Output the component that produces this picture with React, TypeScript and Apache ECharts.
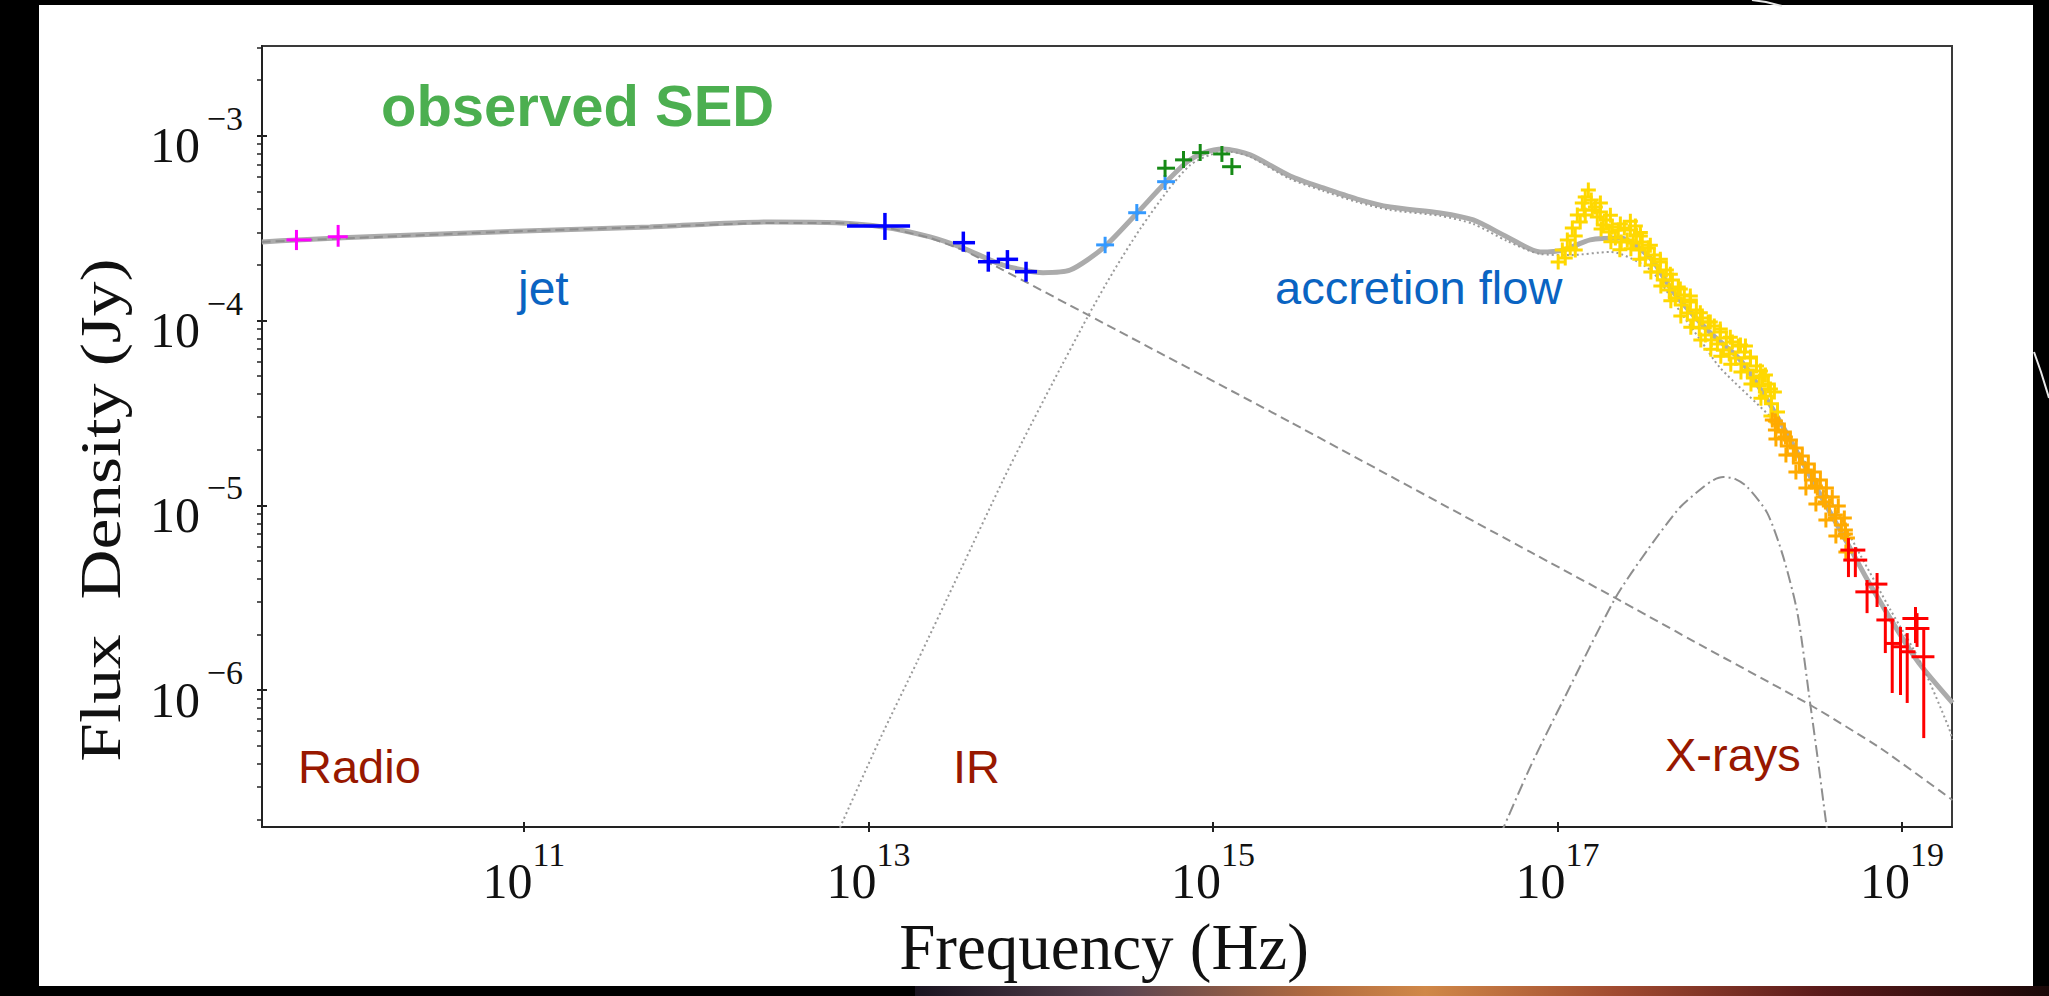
import React, { useEffect, useRef } from 'react';
import * as echarts from 'echarts';

// All values are log10(frequency / Hz) and log10(flux density / Jy)
const xMin = 9.48;
const xMax = 19.29;
const yMin = -6.74;
const yMax = -2.515;
const xTickExps = [11, 13, 15, 17, 19];
const yTickExps = [-6, -5, -4, -3];
const yMinorDecades = [-7, -6, -5, -4, -3];
const yMinorMultipliers = [2, 3, 4, 5, 6, 7, 8, 9];

// total model (solid grey)
const totalModel: [number, number][] = [
  [9.479, -3.575], [9.682, -3.564], [10.28, -3.54], [11.0, -3.516], [11.732, -3.494],
  [12.429, -3.467], [12.818, -3.471], [13.085, -3.494], [13.358, -3.548], [13.549, -3.608],
  [13.782, -3.7], [14.014, -3.741], [14.171, -3.727], [14.362, -3.608], [14.56, -3.418],
  [14.711, -3.267], [14.85, -3.142], [14.943, -3.094], [15.059, -3.072], [15.216, -3.104],
  [15.448, -3.218], [15.64, -3.283], [15.837, -3.343], [16.029, -3.386], [16.319, -3.418],
  [16.511, -3.456], [16.708, -3.548], [16.9, -3.629], [17.034, -3.619], [17.19, -3.564],
  [17.365, -3.554], [17.539, -3.662], [17.672, -3.846], [17.87, -4.051], [18.062, -4.214],
  [18.218, -4.43], [18.352, -4.646], [18.526, -4.944], [18.689, -5.215], [18.816, -5.431],
  [18.991, -5.702], [19.107, -5.864], [19.293, -6.069],
];

// jet component (dashed)
const jetModel: [number, number][] = [
  [9.479, -3.575], [10.28, -3.543], [11.0, -3.516], [11.732, -3.494], [12.429, -3.472],
  [12.818, -3.472], [13.085, -3.494], [13.358, -3.554], [13.549, -3.619], [13.782, -3.727],
  [14.275, -3.97], [15.448, -4.549], [16.842, -5.252], [17.336, -5.501], [17.829, -5.755],
  [18.468, -6.08], [18.874, -6.313], [19.293, -6.594],
];

// accretion flow component (dotted)
const accretionModel: [number, number][] = [
  [12.823, -6.768], [13.067, -6.264], [13.282, -5.848], [13.532, -5.356], [13.782, -4.863],
  [13.898, -4.647], [14.072, -4.333], [14.275, -3.976], [14.42, -3.738], [14.577, -3.505],
  [14.74, -3.294], [14.868, -3.159], [14.984, -3.104], [15.1, -3.088], [15.216, -3.115],
  [15.448, -3.234], [15.64, -3.299], [15.837, -3.359], [16.029, -3.402], [16.319, -3.434],
  [16.511, -3.478], [16.708, -3.57], [16.9, -3.64], [17.074, -3.646], [17.307, -3.629],
  [17.539, -3.727], [17.713, -3.954], [17.829, -4.105], [17.945, -4.257], [18.253, -4.538],
  [18.41, -4.728], [18.584, -4.971], [18.758, -5.269], [18.933, -5.566], [19.107, -5.848],
  [19.27, -6.199], [19.293, -6.269],
];

// X-ray hump component (dash-dot)
const xrayHumpModel: [number, number][] = [
  [16.668, -6.784], [16.842, -6.415], [17.034, -6.053], [17.336, -5.501], [17.522, -5.242],
  [17.713, -5.009], [17.847, -4.901], [17.905, -4.863], [17.963, -4.847], [18.033, -4.858],
  [18.102, -4.901], [18.218, -5.042], [18.311, -5.28], [18.393, -5.583], [18.468, -6.08],
  [18.514, -6.394], [18.555, -6.687], [18.573, -6.811],
];

// observed points: [x, y, xLow, xHigh, yLow, yHigh]
const radioPoints = [
  [9.68, -3.564, 9.622, 9.767, -3.619, -3.51],
  [9.922, -3.547, 9.862, 9.978, -3.601, -3.483],
];
const irPoints = [
  [13.096, -3.489, 12.876, 13.242, -3.564, -3.418],
  [13.551, -3.579, 13.491, 13.619, -3.628, -3.519],
  [13.696, -3.682, 13.636, 13.764, -3.736, -3.628],
  [13.807, -3.669, 13.745, 13.869, -3.721, -3.619],
  [13.915, -3.736, 13.851, 13.979, -3.79, -3.682],
];
const nirPoints = [
  [14.374, -3.591, 14.322, 14.426, -3.636, -3.547],
  [14.558, -3.417, 14.508, 14.612, -3.462, -3.37],
  [14.722, -3.249, 14.676, 14.78, -3.294, -3.213],
];
const opticalPoints = [
  [14.722, -3.176, 14.676, 14.78, -3.223, -3.131],
  [14.829, -3.131, 14.78, 14.879, -3.175, -3.083],
  [14.926, -3.092, 14.879, 14.978, -3.137, -3.045],
  [15.052, -3.099, 15.001, 15.1, -3.142, -3.056],
  [15.11, -3.168, 15.053, 15.163, -3.213, -3.121],
];
const hardXPoints = [
  [18.689, -5.242, 18.642, 18.787, -5.388, -5.177],
  [18.729, -5.296, 18.659, 18.798, -5.388, -5.226],
  [18.855, -5.426, 18.787, 18.915, -5.55, -5.366],
  [18.797, -5.468, 18.729, 18.857, -5.583, -5.404],
  [18.903, -5.62, 18.851, 18.956, -5.799, -5.55],
  [18.943, -5.747, 18.897, 18.991, -6.015, -5.62],
  [18.991, -5.765, 18.944, 19.037, -6.026, -5.658],
  [19.03, -5.792, 18.985, 19.078, -6.069, -5.691],
  [19.078, -5.612, 19.002, 19.153, -5.745, -5.55],
  [19.087, -5.666, 19.02, 19.159, -5.766, -5.583],
  [19.126, -5.819, 19.055, 19.188, -6.259, -5.658],
];
const softXYellow: [number, number][] = [
  [17.004, -3.683], [17.028, -3.619], [17.045, -3.662], [17.057, -3.564], [17.074, -3.608],
  [17.086, -3.499], [17.103, -3.543], [17.115, -3.429], [17.132, -3.467], [17.144, -3.364],
  [17.161, -3.332], [17.179, -3.294], [17.196, -3.348], [17.155, -3.402], [17.103, -3.619],
  [17.161, -3.429], [17.202, -3.402],
  [17.22, -3.386], [17.231, -3.44], [17.249, -3.413], [17.266, -3.483], [17.283, -3.456],
  [17.301, -3.521], [17.318, -3.494], [17.336, -3.554], [17.353, -3.51], [17.37, -3.575],
  [17.388, -3.499], [17.405, -3.564], [17.423, -3.51], [17.44, -3.581], [17.458, -3.537],
  [17.475, -3.619], [17.492, -3.575], [17.51, -3.662], [17.527, -3.608], [17.545, -3.7],
  [17.562, -3.646], [17.58, -3.738], [17.597, -3.683], [17.614, -3.781], [17.632, -3.727],
  [17.649, -3.835], [17.667, -3.781], [17.684, -3.878], [17.701, -3.819], [17.719, -3.916],
  [17.736, -3.862], [17.754, -3.959], [17.771, -3.9], [17.788, -3.997], [17.806, -3.943],
  [17.823, -4.041], [17.841, -3.986], [17.858, -4.078], [17.875, -4.008], [17.893, -4.105],
  [17.91, -4.03], [17.928, -4.127], [17.945, -4.062], [17.963, -4.16], [17.98, -4.095],
  [17.997, -4.181], [18.015, -4.116], [18.033, -4.203], [18.05, -4.138], [18.068, -4.235],
  [18.085, -4.17], [18.102, -4.268], [18.12, -4.203], [18.137, -4.311], [18.155, -4.246],
  [18.172, -4.354], [18.19, -4.3], [18.207, -4.408], [18.224, -4.343], [18.242, -4.451],
  [18.259, -4.387], [18.277, -4.495], [17.452, -3.489], [17.481, -3.543], [17.771, -3.867],
  [18.091, -4.138], [18.207, -4.295],
  [17.249, -3.364], [17.253, -3.505], [17.307, -3.431], [17.31, -3.574], [17.365, -3.478],
  [17.362, -3.617], [17.423, -3.463], [17.426, -3.612], [17.481, -3.524], [17.478, -3.668],
  [17.539, -3.593], [17.542, -3.737], [17.597, -3.669], [17.6, -3.814], [17.655, -3.75],
  [17.658, -3.893], [17.713, -3.83], [17.716, -3.975], [17.771, -3.889], [17.774, -4.036],
  [17.829, -3.958], [17.832, -4.106], [17.887, -4.008], [17.89, -4.155], [17.945, -4.046],
  [17.948, -4.193], [18.003, -4.09], [18.006, -4.236], [18.062, -4.132], [18.065, -4.279],
  [18.12, -4.197], [18.123, -4.344], [18.178, -4.273], [18.181, -4.42], [18.236, -4.371],
  [18.239, -4.517],
];
const softXOrange: [number, number][] = [
  [18.247, -4.538], [18.265, -4.592], [18.282, -4.56], [18.299, -4.635], [18.317, -4.603],
  [18.334, -4.679], [18.352, -4.646], [18.369, -4.728], [18.386, -4.69], [18.404, -4.771],
  [18.421, -4.733], [18.439, -4.82], [18.456, -4.776], [18.474, -4.863], [18.491, -4.82],
  [18.508, -4.906], [18.526, -4.863], [18.543, -4.955], [18.561, -4.906], [18.578, -5.004],
  [18.595, -4.955], [18.613, -5.052], [18.63, -5.004], [18.648, -5.106], [18.665, -5.068],
  [18.683, -5.177], [18.671, -5.133],
  [18.265, -4.544], [18.268, -4.641], [18.323, -4.63], [18.326, -4.728], [18.381, -4.722],
  [18.384, -4.82], [18.439, -4.809], [18.442, -4.906], [18.497, -4.895], [18.5, -4.993],
  [18.555, -4.982], [18.558, -5.079], [18.613, -5.068], [18.616, -5.166], [18.671, -5.155],
  [18.674, -5.252],
];

const SERIF = '"Liberation Serif", "Times New Roman", serif';
const SANS = '"Liberation Sans", Arial, sans-serif';
const PLUS = 'path://M4,0H6V4H10V6H6V10H4V6H0V4H4Z';

function errorBarSeries(name: string, data: number[][], color: string, width: number) {
  return {
    type: 'custom',
    name,
    data,
    z: 6,
    encode: { x: 0, y: 1 },
    renderItem: (_params: any, api: any) => {
      const x = api.value(0);
      const y = api.value(1);
      const l = api.coord([api.value(2), y]);
      const r = api.coord([api.value(3), y]);
      const b = api.coord([x, api.value(4)]);
      const t = api.coord([x, api.value(5)]);
      return {
        type: 'group',
        children: [
          { type: 'line', shape: { x1: l[0], y1: l[1], x2: r[0], y2: r[1] }, style: { stroke: color, lineWidth: width } },
          { type: 'line', shape: { x1: b[0], y1: b[1], x2: t[0], y2: t[1] }, style: { stroke: color, lineWidth: width } },
        ],
      };
    },
  };
}

function lineSeries(name: string, data: [number, number][], color: string, width: number, type: any, z: number, smooth: number) {
  return {
    type: 'line',
    name,
    data,
    showSymbol: false,
    symbol: 'none',
    smooth,
    z,
    lineStyle: { color, width, type },
  };
}

const richLabel = {
  b: { fontFamily: SERIF, fontSize: 50, color: '#111', lineHeight: 69, verticalAlign: 'bottom' },
  s: { fontFamily: SERIF, fontSize: 34, color: '#111', lineHeight: 20, verticalAlign: 'top' },
};

function buildOption() {
  const yMinor: number[] = [];
  yMinorDecades.forEach((d) => {
    yMinorMultipliers.forEach((m) => {
      const v = d + Math.log10(m);
      if (v > yMin && v < yMax) yMinor.push(v);
    });
  });
  const tickStyle = { color: '#222', width: 2 };
  return {
    animation: false,
    grid: {
      left: 262, right: 97, top: 46, bottom: 169,
      show: true, borderColor: '#3a3a3a', borderWidth: 2, backgroundColor: 'transparent',
      outerBoundsMode: 'none',
    },
    xAxis: [
      {
        type: 'value', min: xMin, max: xMax, position: 'bottom',
        axisLine: { show: true, lineStyle: { color: '#222', width: 2 } },
        axisTick: { show: true, inside: false, length: 5, customValues: xTickExps, lineStyle: tickStyle },
        axisLabel: {
          show: true, customValues: xTickExps, margin: 10,
          formatter: (v: number) => `{b|10}{s|${Math.round(v)}}`,
          rich: richLabel,
        },
        splitLine: { show: false },
      },
      {
        type: 'value', min: xMin, max: xMax, position: 'bottom',
        axisLine: { show: false },
        axisTick: { show: true, inside: true, length: 5, customValues: xTickExps, lineStyle: tickStyle },
        axisLabel: { show: false },
        splitLine: { show: false },
      },
    ],
    yAxis: [
      {
        type: 'value', min: yMin, max: yMax, position: 'left',
        axisLine: { show: true, lineStyle: { color: '#222', width: 2 } },
        axisTick: { show: true, inside: false, length: 5, customValues: yTickExps, lineStyle: tickStyle },
        axisLabel: {
          show: true, customValues: yTickExps, margin: 19,
          formatter: (v: number) => `{b|10}{s|\u2009\u2212${Math.round(-v)}}`,
          rich: richLabel,
        },
        splitLine: { show: false },
      },
      {
        type: 'value', min: yMin, max: yMax, position: 'left',
        axisLine: { show: false },
        axisTick: { show: true, inside: true, length: 5, customValues: yTickExps, lineStyle: tickStyle },
        axisLabel: { show: false },
        splitLine: { show: false },
      },
      {
        type: 'value', min: yMin, max: yMax, position: 'left',
        axisLine: { show: false },
        axisTick: { show: true, inside: false, length: 5, customValues: yMinor, lineStyle: { color: '#222', width: 1.5 } },
        axisLabel: { show: false },
        splitLine: { show: false },
      },
    ],
    graphic: [
      { type: 'text', x: 381, y: 105, z: 10, style: { text: 'observed SED', fill: '#4caf50', fontFamily: SANS, fontWeight: 'bold', fontSize: 58, align: 'left', verticalAlign: 'middle' } },
      { type: 'text', x: 518, y: 288, z: 10, style: { text: 'jet', fill: '#0a64c2', fontFamily: SANS, fontSize: 48, align: 'left', verticalAlign: 'middle' } },
      { type: 'text', x: 1275, y: 287, z: 10, style: { text: 'accretion flow', fill: '#0a64c2', fontFamily: SANS, fontSize: 47, align: 'left', verticalAlign: 'middle' } },
      { type: 'text', x: 298, y: 766, z: 10, style: { text: 'Radio', fill: '#981800', fontFamily: SANS, fontSize: 47, align: 'left', verticalAlign: 'middle' } },
      { type: 'text', x: 953, y: 766, z: 10, style: { text: 'IR', fill: '#981800', fontFamily: SANS, fontSize: 47, align: 'left', verticalAlign: 'middle' } },
      { type: 'text', x: 1665, y: 754, z: 10, style: { text: 'X-rays', fill: '#981800', fontFamily: SANS, fontSize: 47, align: 'left', verticalAlign: 'middle' } },
      { type: 'text', x: 1104, y: 947, z: 10, style: { text: 'Frequency (Hz)', fill: '#111', fontFamily: SERIF, fontSize: 65, align: 'center', verticalAlign: 'middle' } },
      { type: 'text', x: 101, y: 510, rotation: Math.PI / 2, scaleX: 1.24, z: 10, style: { text: 'Flux  Density (Jy)', fill: '#111', fontFamily: SERIF, fontSize: 56, align: 'center', verticalAlign: 'middle' } },
      { type: 'polyline', z: 10, shape: { points: [[1752, 0], [1766, 2], [1782, 6]] }, style: { stroke: '#e8e8e8', lineWidth: 2, fill: 'none' } },
      { type: 'polyline', z: 10, shape: { points: [[2034, 352], [2041, 372], [2049, 398]] }, style: { stroke: '#e8e8e8', lineWidth: 2, fill: 'none' } },
    ],
    series: [
      lineSeries('total', totalModel, '#ababab', 5, 'solid', 2, 0.25),
      lineSeries('jet', jetModel, '#8e8e8e', 2, [9, 5], 3, 0.15),
      lineSeries('accretion flow', accretionModel, '#9a9a9a', 2, [2, 3], 3, 0.25),
      lineSeries('X-ray hump', xrayHumpModel, '#8e8e8e', 2, [12, 4, 2, 4], 3, 0.25),
      { type: 'scatter', name: 'soft X-ray', data: softXYellow, symbol: PLUS, symbolSize: 15, z: 4, itemStyle: { color: '#ffd800', opacity: 1 } },
      { type: 'scatter', name: 'X-ray', data: softXOrange, symbol: PLUS, symbolSize: 15, z: 4, itemStyle: { color: '#ffaa00', opacity: 1 } },
      errorBarSeries('radio', radioPoints, '#ff00ff', 3),
      errorBarSeries('IR', irPoints, '#0000ff', 3.5),
      errorBarSeries('NIR', nirPoints, '#3399ff', 3),
      errorBarSeries('optical', opticalPoints, '#168a16', 3),
      errorBarSeries('hard X-ray', hardXPoints, '#ff0000', 3),
    ],
  };
}

export default function App() {
  const ref = useRef<HTMLDivElement>(null);
  useEffect(() => {
    if (!ref.current) return;
    const chart = echarts.init(ref.current, null, { renderer: 'svg' });
    chart.setOption(buildOption() as any);
    return () => chart.dispose();
  }, []);
  return (
    <div style={{ position: 'absolute', left: 0, top: 0, width: 2049, height: 996, background: '#000', overflow: 'hidden' }}>
      <div style={{ position: 'absolute', left: 39, top: 5, width: 1994, height: 981, background: '#fff' }} />
      <div
        style={{
          position: 'absolute', left: 915, top: 986, width: 1134, height: 10,
          background: 'linear-gradient(90deg, #1a1420 0%, #5a4450 18%, #b06a40 35%, #d08848 45%, #a04a30 62%, #5a1a1a 80%, #1a0808 100%)',
        }}
      />
      <div ref={ref} style={{ position: 'absolute', left: 0, top: 0, width: 2049, height: 996 }} />
    </div>
  );
}
